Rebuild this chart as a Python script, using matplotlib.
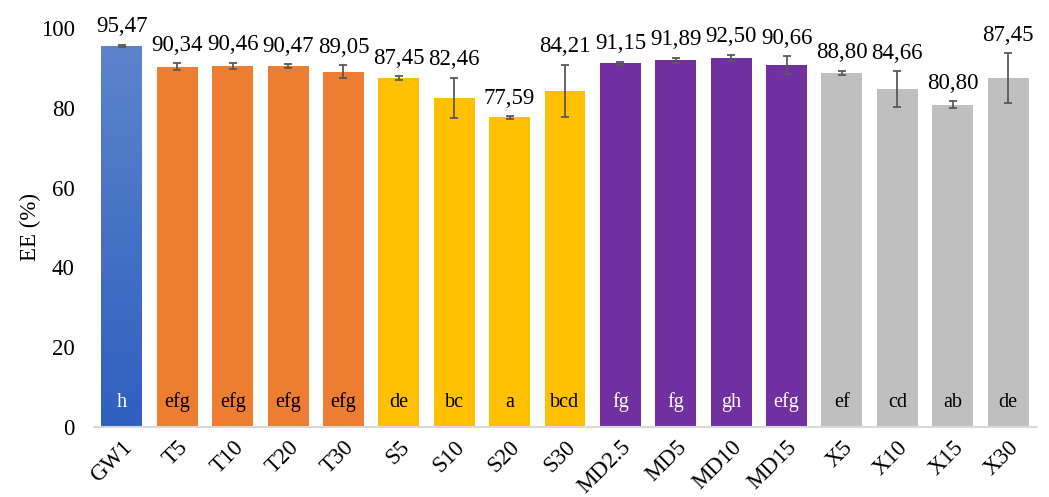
import matplotlib
matplotlib.use("Agg")
import matplotlib.pyplot as plt
import matplotlib.transforms as mtransforms
import numpy as np
from matplotlib.colors import LinearSegmentedColormap

plt.rcParams['font.family'] = ['Liberation Serif', 'DejaVu Serif']

categories = ["GW1", "T5", "T10", "T20", "T30", "S5", "S10", "S20", "S30",
              "MD2.5", "MD5", "MD10", "MD15", "X5", "X10", "X15", "X30"]
values = [95.47, 90.34, 90.46, 90.47, 89.05, 87.45, 82.46, 77.59, 84.21,
          91.15, 91.89, 92.50, 90.66, 88.80, 84.66, 80.80, 87.45]
errors = [0.3, 0.8, 0.8, 0.5, 1.6, 0.4, 5.05, 0.3, 6.6,
          0.45, 0.65, 0.75, 2.25, 0.5, 4.45, 0.9, 6.2]
letters = ["h", "efg", "efg", "efg", "efg", "de", "bc", "a", "bcd",
           "fg", "fg", "gh", "efg", "ef", "cd", "ab", "de"]
groups = ["GW", "T", "T", "T", "T", "S", "S", "S", "S",
          "MD", "MD", "MD", "MD", "X", "X", "X", "X"]
yticks = [0, 20, 40, 60, 80, 100]

group_colors = {"GW": "#4472C4", "T": "#ED7D31", "S": "#FFC000",
                "MD": "#7030A0", "X": "#BFBFBF"}
letter_colors = {"GW": "white", "T": "black", "S": "black",
                 "MD": "white", "X": "black"}

fig = plt.figure(figsize=(10.49, 4.97), dpi=100)
ax = fig.add_axes([94.3/1049, 1-427/497, (1035.7-94.3)/1049, (427-28)/497])

x = np.arange(len(categories))
bars = ax.bar(x, values, width=0.74, color=[group_colors[g] for g in groups], zorder=2)

# gradient for first bar
cmap = LinearSegmentedColormap.from_list("g", ["#2F5FBF", "#5B84CB"])
b0 = bars[0]
grad = np.linspace(0, 1, 256).reshape(-1, 1)
im = ax.imshow(grad, cmap=cmap, origin="lower", aspect="auto",
               extent=[b0.get_x(), b0.get_x() + b0.get_width(), 0, b0.get_height()],
               zorder=2.5)
im.set_clip_path(b0)

ax.errorbar(x, values, yerr=errors, fmt="none", ecolor="#595959",
            elinewidth=1.3, capsize=3, capthick=1.3, zorder=3)

for xi, v, e in zip(x, values, errors):
    ax.annotate(f"{v:.2f}".replace(".", ","), (xi, v + e), xytext=(0, 9),
                textcoords="offset points", ha="center", va="baseline",
                fontsize=16.5, annotation_clip=False)

for xi, l, g in zip(x, letters, groups):
    ax.text(xi, 6.2, l, ha="center", va="center", fontsize=14.5,
            color=letter_colors[g], zorder=4)

ax.set_xlim(-0.5, len(categories) - 0.5)
ax.set_ylim(0, 100)
ax.set_yticks(yticks)
ax.set_yticklabels([str(t) for t in yticks], fontsize=16.5)
ax.set_xticks(x)
ax.set_xticklabels(categories, fontsize=16.5, rotation=45, ha="right",
                   rotation_mode="anchor")
offset = mtransforms.ScaledTranslation(10/100, 0, fig.dpi_scale_trans)
for lab in ax.get_xticklabels():
    lab.set_transform(lab.get_transform() + offset)
ax.tick_params(axis="both", length=0)
ax.tick_params(axis="y", pad=14)
ax.tick_params(axis="x", pad=7)
for s in ["top", "right", "left"]:
    ax.spines[s].set_visible(False)
ax.spines["bottom"].set_color("#D9D9D9")
ax.spines["bottom"].set_linewidth(1.5)
ax.set_ylabel("EE (%)", fontsize=16.5, labelpad=0)

fig.savefig("out.png", dpi=100)
